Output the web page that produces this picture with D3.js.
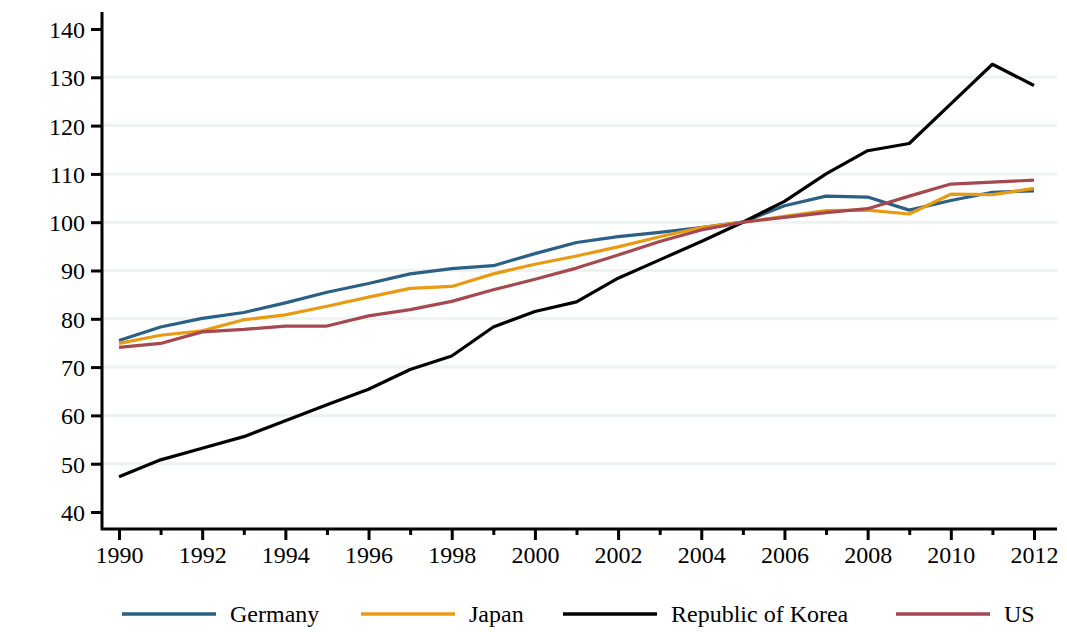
<!DOCTYPE html>
<html>
<head>
<meta charset="utf-8">
<title>Index</title>
<style>
body { margin: 0; background: #fff; }
.axis text { font-family: "Liberation Serif", serif; font-size: 24px; fill: #000; }
.axis line { stroke: #000; stroke-width: 3; }
.axis path { display: none; }
.grid { stroke: #edf3f1; stroke-width: 3; }
.legend text { font-family: "Liberation Serif", serif; font-size: 24px; fill: #000; }
</style>
</head>
<body>
<script src="https://cdn.jsdelivr.net/npm/d3@7"></script>
<script>
var years = d3.range(1990, 2013);
var germany = [75.5,78.3,80.1,81.3,83.3,85.5,87.3,89.3,90.4,91.0,93.5,95.8,97.0,97.9,98.9,100,103.4,105.4,105.2,102.5,104.5,106.2,106.5];
var japan   = [74.9,76.6,77.5,79.8,80.8,82.6,84.5,86.3,86.7,89.3,91.3,93.0,94.9,97.0,98.9,100,101.2,102.4,102.5,101.7,105.8,105.7,107.0];
var korea   = [47.3,50.8,53.2,55.6,58.9,62.2,65.4,69.5,72.3,78.3,81.5,83.5,88.4,92.2,96.0,100,104.3,110.0,114.8,116.3,124.5,132.7,128.3];
var us      = [74.1,74.9,77.3,77.8,78.5,78.5,80.6,81.9,83.6,86.0,88.2,90.5,93.2,96.0,98.4,100,101.0,102.0,102.8,105.4,107.9,108.3,108.7];
var names = ["Germany", "Japan", "Republic of Korea", "US"];
var colors = ["#2a5f86", "#e89b12", "#000000", "#a5484f"];
var yTicks = [40,50,60,70,80,90,100,110,120,130,140];
var gridVals = [50,60,70,80,90,100,110,120,130];

var series = [germany, japan, korea, us];

var width = 1067, height = 632;
var svg = d3.select("body").append("svg")
	.attr("width", width)
	.attr("height", height);

var x = d3.scaleLinear().domain([1990, 2012]).range([119, 1034]);
var y = d3.scaleLinear().domain([40, 140]).range([512, 29]);

// grid lines
svg.selectAll(".grid")
	.data(gridVals)
	.enter()
	.append("line")
	.attr("class", "grid")
	.attr("x1", 104)
	.attr("x2", 1057)
	.attr("y1", function(d){ return y(d); })
	.attr("y2", function(d){ return y(d); });

// y axis
svg.append("g")
	.attr("class", "axis")
	.attr("transform", "translate(102,0)")
	.call(d3.axisLeft(y).tickValues(yTicks).tickSize(11).tickPadding(6).tickFormat(d3.format("d")))
	.selectAll("text").attr("dy", "0.35em");
svg.append("line")
	.attr("x1", 102).attr("x2", 102)
	.attr("y1", 12).attr("y2", 530)
	.attr("stroke", "#000").attr("stroke-width", 3);

// x axis: minor and major ticks
svg.append("g")
	.attr("class", "axis")
	.attr("transform", "translate(0,529)")
	.call(d3.axisBottom(x).tickValues(years.filter(function(d){ return d % 2 == 1; })).tickSize(6).tickFormat(""));
svg.append("g")
	.attr("class", "axis")
	.attr("transform", "translate(0,529)")
	.call(d3.axisBottom(x).tickValues(years.filter(function(d){ return d % 2 == 0; })).tickSize(11).tickPadding(6).tickFormat(d3.format("d")));
svg.append("line")
	.attr("x1", 101).attr("x2", 1057)
	.attr("y1", 529).attr("y2", 529)
	.attr("stroke", "#000").attr("stroke-width", 3);

// lines
var line = d3.line()
	.x(function(d, i){ return x(years[i]); })
	.y(function(d){ return y(d); });

series.forEach(function(s, k){
	svg.append("path")
		.datum(s)
		.attr("fill", "none")
		.attr("stroke", colors[k])
		.attr("stroke-width", 3.2)
		.attr("stroke-linejoin", "round")
		.attr("d", line);
});

// legend
var legendX = [122, 361, 563, 896];
var legend = svg.append("g").attr("class", "legend");
names.forEach(function(n, k){
	legend.append("line")
		.attr("x1", legendX[k]).attr("x2", legendX[k] + 94)
		.attr("y1", 614).attr("y2", 614)
		.attr("stroke", colors[k]).attr("stroke-width", 3.5);
	legend.append("text")
		.attr("x", legendX[k] + 108)
		.attr("y", 622)
		.text(n);
});
</script>
</body>
</html>
